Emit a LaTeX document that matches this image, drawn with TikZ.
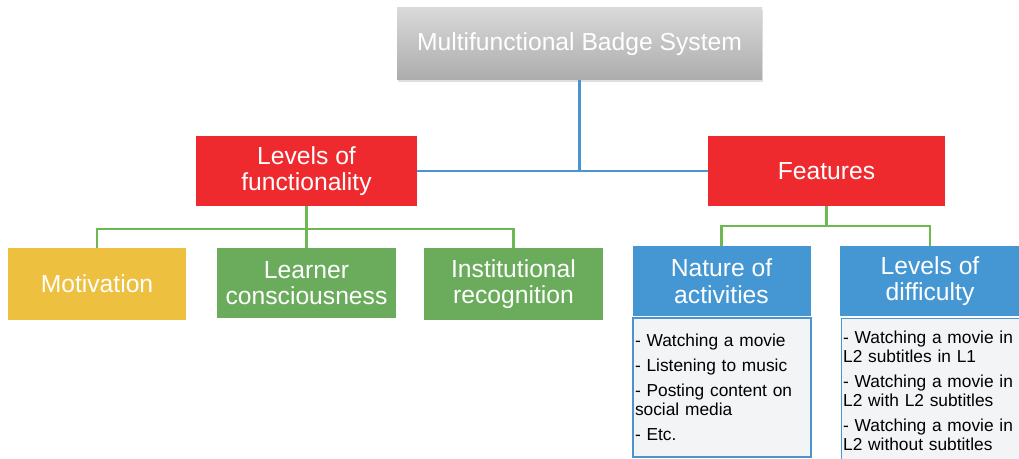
\documentclass[tikz,border=0pt]{standalone}
\usepackage{fontspec}
\setmainfont{Liberation Sans}
\usetikzlibrary{shadows}
\setlength{\parindent}{0pt}
\definecolor{badgered}{HTML}{EE2A2F}
\definecolor{badgeyellow}{HTML}{EEC03F}
\definecolor{badgegreen}{HTML}{6AAC5C}
\definecolor{badgeblue}{HTML}{4497D3}
\definecolor{lineblue}{HTML}{4C93D1}
\definecolor{linegreen}{HTML}{6DB851}
\definecolor{listgray}{HTML}{F3F4F5}
\newcommand{\gap}{\par\vspace{4.5pt}\noindent}

\begin{document}
\begin{tikzpicture}[x=0.75pt,y=-0.75pt,
    box/.style={draw=none,inner sep=0pt,text=white,align=center,minimum height=53pt,
        font=\fontsize{18.5}{20}\selectfont},
    list/.style={draw=lineblue,line width=0.9pt,fill=listgray,inner xsep=1.5pt,inner ysep=0pt,
        text=black,align=left,font=\fontsize{13}{14.25}\selectfont},
    blueline/.style={draw=lineblue,line width=1.7pt},
    greenline/.style={draw=linegreen,line width=1.7pt}]
                \useasboundingbox (0,0) rectangle (1019,459);

                \node[box,minimum width=273.75pt,minimum height=54pt,top color=gray!30,bottom color=gray!65,
                    drop shadow={opacity=.25,shadow xshift=0.6pt,shadow yshift=-1.2pt}] (top) at (579.5,44) {Multifunctional Badge System};
                \node[box,fill=badgered,minimum width=165.75pt,minimum height=52.5pt] (lof) at (306.5,171) {Levels of\\functionality};
                \node[box,fill=badgered,minimum width=177.75pt,minimum height=52.5pt] (feat) at (826.5,171) {Features};

                \node[box,fill=badgeyellow,minimum width=133.5pt,minimum height=54pt] (mot) at (97,284) {Motivation};
                \node[box,fill=badgegreen,minimum width=134.25pt,minimum height=52.5pt] (learn) at (306.5,283) {Learner\\consciousness};
                \node[box,fill=badgegreen,minimum width=134.25pt,minimum height=54pt] (inst) at (513.5,284) {Institutional\\recognition};

                \node[box,fill=badgeblue,minimum width=133.5pt,minimum height=52.5pt] (nat) at (721.5,281) {Nature of\\activities};
                \node[box,fill=badgeblue,minimum width=135pt,minimum height=52.5pt] (diff) at (930,281) {Levels of\\difficulty};

                \node[list,text width=130.5pt,minimum height=104.25pt] (natlist) at (722,387.5)
                    {\noindent- Watching a movie\gap - Listening to music\gap \makebox[124pt][s]{- Posting content on}\\social media\gap - Etc.};
                \node[list,text width=136pt,minimum height=108.75pt,anchor=north west] (difflist) at (840.5,318)
                    {\noindent- Watching a movie in\\L2 subtitles in L1\gap - Watching a movie in\\L2 with L2 subtitles\gap - Watching a movie in\\L2 without subtitles};

                \draw[blueline] (top.south) |- (lof.east);
                \draw[blueline] (top.south) |- (feat.west);
                \draw[greenline] (lof.south) -- ++(0,23) -| (mot.north);
                \draw[greenline] (lof.south) -- (learn.north);
                \draw[greenline] (lof.south) -- ++(0,23) -| (inst.north);
                \draw[greenline] (feat.south) -- ++(0,20) -| (nat.north);
                \draw[greenline] (feat.south) -- ++(0,20) -| (diff.north);
            \end{tikzpicture}
\end{document}
